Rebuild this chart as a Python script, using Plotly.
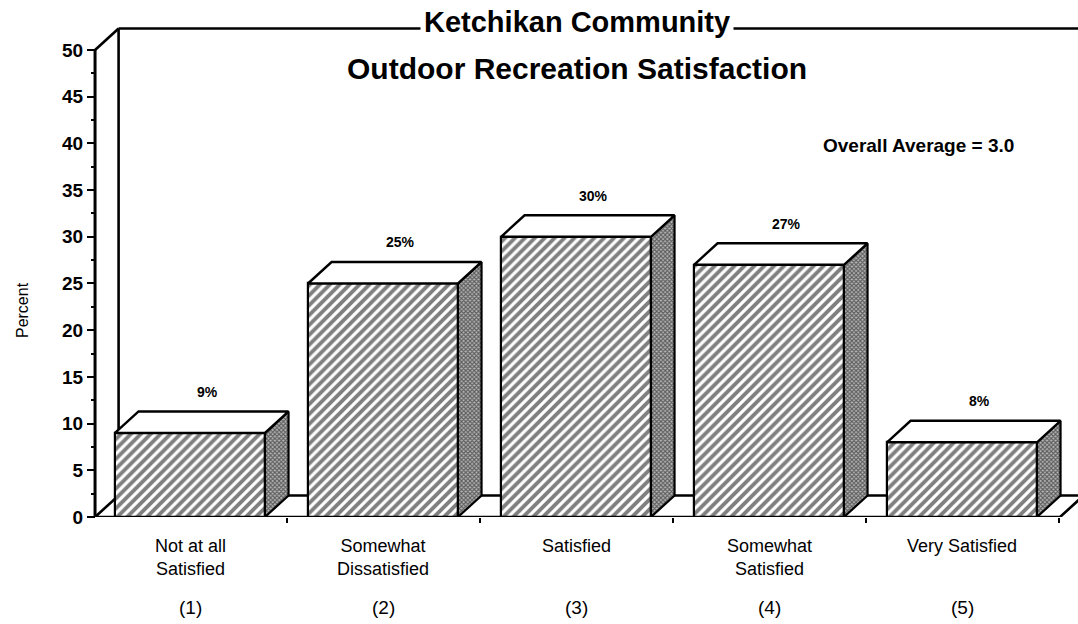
import plotly.graph_objects as go

# ---------------- data ----------------
categories = ["Not at all<br>Satisfied", "Somewhat<br>Dissatisfied", "Satisfied",
              "Somewhat<br>Satisfied", "Very Satisfied"]
codes = ["(1)", "(2)", "(3)", "(4)", "(5)"]
positions = [1, 2, 3, 4, 5]
percent = [9, 25, 30, 27, 8]
value_labels = ["9%", "25%", "30%", "27%", "8%"]
y_ticks = [0, 5, 10, 15, 20, 25, 30, 35, 40, 45, 50]
y_minor = [2.5, 7.5, 12.5, 17.5, 22.5, 27.5, 32.5, 37.5, 42.5, 47.5]
x_boundaries = [1.5, 2.5, 3.5, 4.5, 5.5]
title_line1 = "Ketchikan Community"
title_line2 = "Outdoor Recreation Satisfaction"
note = "Overall Average = 3.0"
y_title = "Percent"

# ---------------- geometry / style ----------------
W, H = 1078, 624
M_L, M_R, M_T, M_B = 50, 0, 10, 107
X_RANGE = [0.2746, 5.601]
Y_RANGE = [0, 54.28]
AXIS_X = 0.508        # front y-axis position (data units)
DX, DY = 0.122, 2.3   # 3-D depth offset
BAR_W = 0.777
FLOOR_END = 5.508
WALL_TOP = 50
LW = 2.6
PLOT_H = H - M_T - M_B


def py(pixel_y):
    """paper y for a pixel row (below the plot area gives negatives)."""
    return (H - M_B - pixel_y) / PLOT_H


SANS = "Liberation Sans, Arial, sans-serif"

fig = go.Figure()

# front faces (hatched)
fig.add_trace(go.Bar(
    x=positions, y=percent, width=BAR_W,
    marker=dict(color="white", line=dict(color="black", width=2.2),
                pattern=dict(shape="/", size=7, solidity=0.55,
                             fgcolor="black", bgcolor="white")),
    hoverinfo="skip", showlegend=False))

# side faces and top faces built from the values
side_x, side_y, top_x, top_y = [], [], [], []
for c, v in zip(positions, percent):
    r = c + BAR_W / 2
    l = c - BAR_W / 2
    side_x += [r, r + DX, r + DX, r, r, None]
    side_y += [0, DY, v + DY, v, 0, None]
    top_x += [l, l + DX, r + DX, r, l, None]
    top_y += [v, v + DY, v + DY, v, v, None]

fig.add_trace(go.Scatter(
    x=side_x, y=side_y, mode="lines", fill="toself",
    fillcolor="#777777",
    fillpattern=dict(shape="x", size=3, solidity=0.6, fgcolor="black", bgcolor="#b8b8b8"),
    line=dict(color="black", width=2.2), hoverinfo="skip", showlegend=False))
fig.add_trace(go.Scatter(
    x=top_x, y=top_y, mode="lines", fill="toself", fillcolor="white",
    line=dict(color="black", width=2.4), hoverinfo="skip", showlegend=False))

# floor and walls (decoration, below traces)
shapes = [
    dict(type="path", layer="below", xref="x", yref="y",
         path=f"M {AXIS_X},0 L {FLOOR_END},0 L {FLOOR_END + DX},{DY} L {AXIS_X + DX},{DY} Z",
         fillcolor="white", line=dict(color="black", width=LW)),
    dict(type="line", layer="below", xref="x", yref="y",
         x0=AXIS_X + DX, y0=DY, x1=AXIS_X + DX, y1=WALL_TOP + DY,
         line=dict(color="black", width=LW)),
    dict(type="line", layer="below", xref="x", yref="y",
         x0=AXIS_X + DX, y0=WALL_TOP + DY, x1=X_RANGE[1], y1=WALL_TOP + DY,
         line=dict(color="black", width=LW)),
    dict(type="line", layer="below", xref="x", yref="y",
         x0=AXIS_X, y0=0, x1=AXIS_X, y1=WALL_TOP,
         line=dict(color="black", width=LW + 0.4)),
    dict(type="line", layer="below", xref="x", yref="y",
         x0=AXIS_X, y0=WALL_TOP, x1=AXIS_X + DX, y1=WALL_TOP + DY,
         line=dict(color="black", width=LW)),
]

annotations = []
for c, cat, code, v, lab in zip(positions, categories, codes, percent, value_labels):
    annotations.append(dict(x=c, y=py(534), xref="x", yref="paper", text=cat, showarrow=False,
                            yanchor="top", xanchor="center", align="center",
                            font=dict(family=SANS, size=18, color="black")))
    annotations.append(dict(x=c, y=py(607), xref="x", yref="paper", text=code, showarrow=False,
                            yanchor="middle", xanchor="center",
                            font=dict(family=SANS, size=19, color="black")))
    annotations.append(dict(x=c + 0.09, y=v + 4.4, xref="x", yref="y", text=lab,
                            showarrow=False, yanchor="middle", xanchor="center",
                            font=dict(family=SANS, size=14, color="black", weight="bold")))

annotations += [
    dict(x=0.5126, y=py(22), xref="paper", yref="paper", text=title_line1, showarrow=False,
         xanchor="center", yanchor="middle", bgcolor="white", borderpad=3,
         font=dict(family=SANS, size=29, color="black", weight="bold")),
    dict(x=0.5126, y=py(68), xref="paper", yref="paper", text=title_line2, showarrow=False,
         xanchor="center", yanchor="middle",
         font=dict(family=SANS, size=30, color="black", weight="bold")),
    dict(x=0.8444, y=py(145), xref="paper", yref="paper", text=note, showarrow=False,
         xanchor="center", yanchor="middle",
         font=dict(family=SANS, size=19, color="black", weight="bold")),
    dict(x=-0.0272, y=py(310), xref="paper", yref="paper", text=y_title, showarrow=False,
         textangle=-90, xanchor="center", yanchor="middle",
         font=dict(family=SANS, size=16, color="black")),
]

fig.update_layout(
    width=W, height=H,
    margin=dict(l=M_L, r=M_R, t=M_T, b=M_B),
    paper_bgcolor="white", plot_bgcolor="white",
    showlegend=False, bargap=0,
    shapes=shapes, annotations=annotations,
    xaxis=dict(range=X_RANGE, showgrid=False, zeroline=False, showline=False,
               tickmode="array", tickvals=x_boundaries, showticklabels=False,
               ticks="outside", ticklen=5, tickwidth=2, tickcolor="black", fixedrange=True),
    yaxis=dict(range=Y_RANGE, anchor="free", position=(95 - M_L) / (W - M_L - M_R),
               showgrid=False, zeroline=False, showline=False,
               tickmode="array", tickvals=y_ticks, ticks="outside", ticklen=8,
               tickwidth=2.4, tickcolor="black",
               tickfont=dict(family=SANS, size=19, color="black", weight="bold"),
               minor=dict(tickmode="array", tickvals=y_minor, ticks="outside",
                          ticklen=4, tickwidth=2, tickcolor="black"),
               fixedrange=True),
)

fig.write_html("out.html")
